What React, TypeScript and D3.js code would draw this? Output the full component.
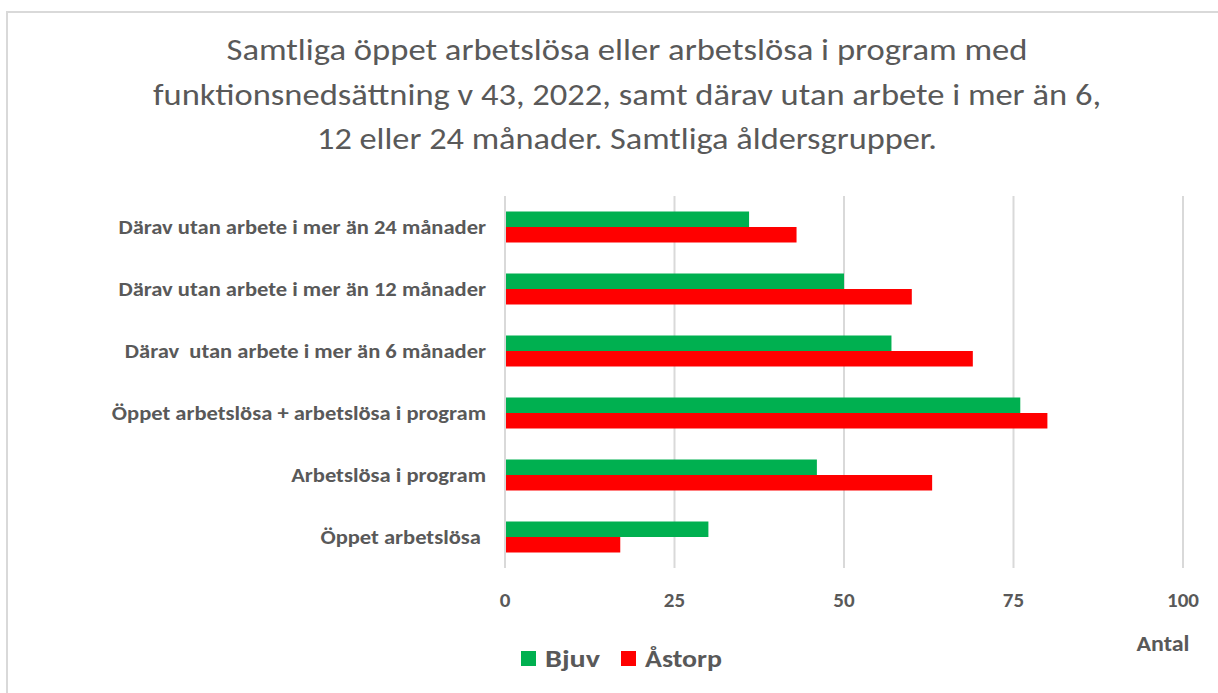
import React from "react";
import * as d3 from "d3";

const categories = [
  "Därav utan arbete i mer än 24 månader",
  "Därav utan arbete i mer än 12 månader",
  "Därav  utan arbete i mer än 6 månader",
  "Öppet arbetslösa + arbetslösa i program",
  "Arbetslösa i program",
  "Öppet arbetslösa ",
];
const bjuv = [36, 50, 57, 76, 46, 30];
const astorp = [43, 60, 69, 80, 63, 17];
const seriesNames = ["Bjuv", "Åstorp"];
const seriesColors = ["#00B050", "#FF0000"];
const xTicks = [0, 25, 50, 75, 100];
const titleLines = [
  "Samtliga öppet arbetslösa eller arbetslösa i program med",
  "funktionsnedsättning v 43, 2022, samt därav utan arbete i mer än 6,",
  "12 eller 24 månader. Samtliga åldersgrupper.",
];
const axisTitle = "Antal";

// layout (measured extents of text in the reference)
const titleWidths = [801, 948, 620];
const legendX = [521, 621];
const legendTextWidths = [55, 77];

const W = 1218;
const H = 693;
const textColor = "#595959";
const font = "Carlito, Calibri, Lato, 'Open Sans', sans-serif";

export default function App() {
  const x = d3.scaleLinear().domain([0, 100]).range([505, 1183]);
  const y = d3
    .scaleBand<string>()
    .domain(categories)
    .range([196, 568])
    .paddingInner(0.5)
    .paddingOuter(0.25);
  const sub = d3
    .scaleBand<number>()
    .domain([0, 1])
    .range([0, y.bandwidth()]);
  const series = [bjuv, astorp];

  return (
    <svg
      width={W}
      height={H}
      style={{ position: "absolute", left: 0, top: 0, background: "#fff" }}
      fontFamily={font}
    >
      <rect x={0} y={0} width={W} height={H} fill="#fff" />
      <path d={`M7,${H} V12 H${W}`} fill="none" stroke="#d9d9d9" strokeWidth={2} />
      {titleLines.map((t, i) => (
        <text
          key={i}
          x={627}
          y={60 + i * 44.5}
          textAnchor="middle"
          fontSize={30}
          fill={textColor}
          textLength={titleWidths[i]}
          lengthAdjust="spacingAndGlyphs"
        >
          {t}
        </text>
      ))}
      {xTicks.map((t) => (
        <line
          key={"g" + t}
          x1={x(t)}
          x2={x(t)}
          y1={196}
          y2={568}
          stroke="#d9d9d9"
          strokeWidth={2}
        />
      ))}
      {categories.map((c, ci) =>
        series.map((s, si) => (
          <rect
            key={c + si}
            x={x(0) + 1}
            y={(y(c) as number) + (sub(si) as number)}
            width={x(s[ci]) - x(0) - 1}
            height={sub.bandwidth()}
            fill={seriesColors[si]}
          />
        ))
      )}
      {categories.map((c) => (
        <text
          key={"l" + c}
          transform={`translate(486,${(y(c) as number) + y.bandwidth() / 2 + 7}) scale(1.1,1)`}
          textAnchor="end"
          fontSize={20.5}
          fontWeight="bold"
          fill={textColor}
          style={{ whiteSpace: "pre" }}
        >
          {c}
        </text>
      ))}
      {xTicks.map((t) => (
        <text
          key={"t" + t}
          x={x(t)}
          y={607}
          textAnchor="middle"
          fontSize={21}
          fontWeight="bold"
          fill={textColor}
        >
          {t}
        </text>
      ))}
      <text
        x={1163}
        y={651}
        textAnchor="middle"
        fontSize={22}
        fontWeight="bold"
        fill={textColor}
        textLength={53}
        lengthAdjust="spacingAndGlyphs"
      >
        {axisTitle}
      </text>
      {seriesNames.map((n, i) => {
        const lx = legendX[i];
        return (
          <g key={n}>
            <rect x={lx} y={651} width={15} height={15} fill={seriesColors[i]} />
            <text
              x={lx + 24}
              y={667}
              fontSize={24}
              fontWeight="bold"
              fill={textColor}
              textLength={legendTextWidths[i]}
              lengthAdjust="spacingAndGlyphs"
            >
              {n}
            </text>
          </g>
        );
      })}
    </svg>
  );
}
